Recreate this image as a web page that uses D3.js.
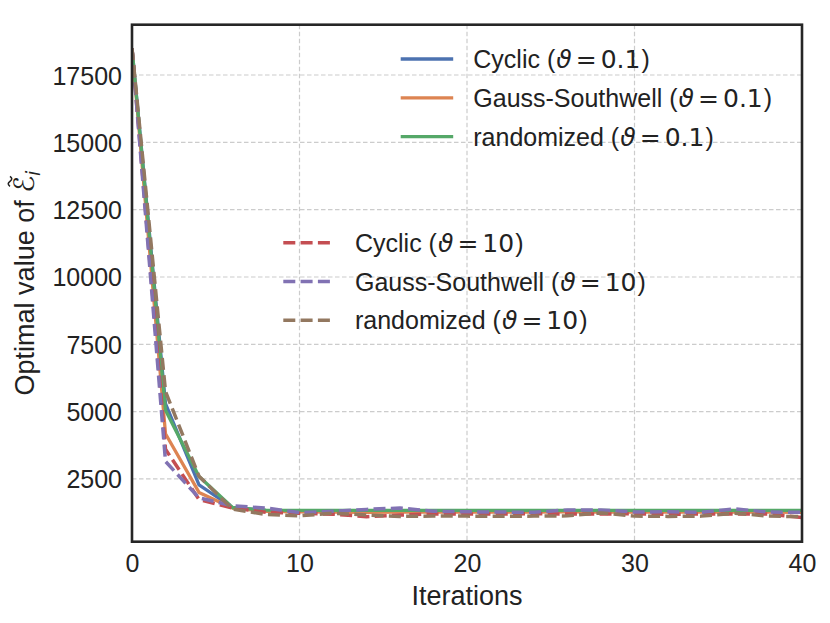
<!DOCTYPE html>
<html>
<head>
<meta charset="utf-8">
<script src="https://cdn.jsdelivr.net/npm/d3@7"></script>
<style>
  html, body { margin: 0; padding: 0; background: #fff; }
  svg { display: block; }
  text { font-family: 'Liberation Sans', Arial, sans-serif; fill: #222; }
</style>
</head>
<body>
<div id="chart"></div>
<script>
// iterations (x values)
var iterations = [0, 2, 4, 6, 8, 10, 12, 14, 16, 18, 20, 22, 24, 26, 28, 30, 32, 34, 36, 38, 40];

// objective values
var cyclic01 = [18500, 5300, 2280, 1440, 1320, 1310, 1300, 1300, 1300, 1295, 1300, 1300, 1305, 1300, 1300, 1300, 1300, 1295, 1300, 1300, 1290];
var gauss01  = [18500, 4180, 2000, 1420, 1300, 1280, 1270, 1260, 1270, 1270, 1265, 1270, 1270, 1275, 1270, 1270, 1265, 1270, 1270, 1270, 1260];
var random01 = [18500, 5050, 2590, 1440, 1345, 1335, 1330, 1330, 1330, 1330, 1330, 1330, 1330, 1330, 1330, 1330, 1330, 1330, 1330, 1330, 1330];
var cyclic10 = [18500, 3600, 1740, 1420, 1260, 1230, 1190, 1100, 1160, 1200, 1200, 1195, 1210, 1200, 1200, 1210, 1190, 1200, 1200, 1195, 1070];
var gauss10  = [18500, 3150, 1800, 1500, 1420, 1250, 1300, 1370, 1420, 1300, 1280, 1270, 1260, 1350, 1350, 1270, 1280, 1260, 1390, 1270, 1260];
var random10 = [18500, 5750, 2600, 1380, 1180, 1130, 1230, 1160, 1110, 1120, 1120, 1115, 1120, 1130, 1240, 1120, 1110, 1120, 1230, 1120, 1100];

var xTicks = [0, 10, 20, 30, 40];
var yTicks = [2500, 5000, 7500, 10000, 12500, 15000, 17500];

var solidSeries = [
  { name: 'Cyclic', theta: '0.1', values: cyclic01, color: '#4C72B0' },
  { name: 'Gauss-Southwell', theta: '0.1', values: gauss01, color: '#DD8452' },
  { name: 'randomized', theta: '0.1', values: random01, color: '#55A868' }
];
var dashedSeries = [
  { name: 'Cyclic', theta: '10', values: cyclic10, color: '#C44E52' },
  { name: 'Gauss-Southwell', theta: '10', values: gauss10, color: '#8172B3' },
  { name: 'randomized', theta: '10', values: random10, color: '#937860' }
];

var W = 830, H = 623;
var m = { left: 132, top: 24.7, right: 28, bottom: 81.3 };
var iw = W - m.left - m.right, ih = H - m.top - m.bottom;
var SANS = "'Liberation Sans', Arial, sans-serif";
var MATH = "'DejaVu Sans', sans-serif";

var svg = d3.select('#chart').append('svg')
  .attr('width', W).attr('height', H);

var x = d3.scaleLinear().domain([0, 40]).range([0, iw]);
var y = d3.scaleLinear().domain([170, 19368]).range([ih, 0]);

var g = svg.append('g').attr('transform', 'translate(' + m.left + ',' + m.top + ')');

svg.append('defs').append('clipPath').attr('id', 'clip')
  .append('rect').attr('width', iw).attr('height', ih);

// grid
g.append('g').selectAll('line').data(xTicks.slice(1, -1)).enter().append('line')
  .attr('x1', function(d) { return x(d); }).attr('x2', function(d) { return x(d); })
  .attr('y1', 0).attr('y2', ih)
  .attr('stroke', '#cccccc').attr('stroke-width', 1.2).attr('stroke-dasharray', '4.5,2.5');
g.append('g').selectAll('line').data(yTicks).enter().append('line')
  .attr('y1', function(d) { return y(d); }).attr('y2', function(d) { return y(d); })
  .attr('x1', 0).attr('x2', iw)
  .attr('stroke', '#cccccc').attr('stroke-width', 1.2).attr('stroke-dasharray', '4.5,2.5');

var line = d3.line()
  .x(function(d, i) { return x(iterations[i]); })
  .y(function(d) { return y(d); });

var lines = g.append('g').attr('clip-path', 'url(#clip)');
solidSeries.forEach(function(s) {
  lines.append('path').datum(s.values)
    .attr('d', line).attr('fill', 'none')
    .attr('stroke', s.color).attr('stroke-width', 3.3)
    .attr('stroke-linejoin', 'round');
});
dashedSeries.forEach(function(s) {
  lines.append('path').datum(s.values)
    .attr('d', line).attr('fill', 'none')
    .attr('stroke', s.color).attr('stroke-width', 3.5)
    .attr('stroke-dasharray', '12,5.3');
});

// axes (labels only, seaborn-white has no tick marks)
var xAxis = d3.axisBottom(x).tickValues(xTicks).tickSize(0).tickPadding(12).tickFormat(d3.format('d'));
var yAxis = d3.axisLeft(y).tickValues(yTicks).tickSize(0).tickPadding(10).tickFormat(d3.format('d'));
var gx = g.append('g').attr('transform', 'translate(0,' + ih + ')').call(xAxis);
var gy = g.append('g').call(yAxis);
[gx, gy].forEach(function(a) {
  a.select('.domain').remove();
  a.selectAll('text').attr('font-size', '25px')
    .attr('font-family', SANS).attr('fill', '#222');
});
gy.selectAll('text').attr('dy', '0.36em');
gx.selectAll('text').attr('dy', '0.74em');

// frame
g.append('rect').attr('width', iw).attr('height', ih)
  .attr('fill', 'none').attr('stroke', '#262626').attr('stroke-width', 2.6);

// axis labels
svg.append('text')
  .attr('x', m.left + iw / 2).attr('y', 605)
  .attr('text-anchor', 'middle').attr('font-size', '27px')
  .text('Iterations');

var yg = svg.append('g').attr('transform', 'translate(34,283) rotate(-90)');
var yl = yg.append('text').attr('font-size', '27px');
var t1 = yl.append('tspan').text('Optimal value of ');
var tE = yl.append('tspan').attr('font-family', MATH).attr('font-style', 'italic')
  .attr('font-size', '28px').text('\u2130');
yl.append('tspan').attr('font-family', MATH).attr('font-size', '19px')
  .attr('font-style', 'italic').attr('dy', 6).text('i');
var totalW = yl.node().getComputedTextLength();
yl.attr('x', -totalW / 2);
var eStart = -totalW / 2 + t1.node().getComputedTextLength();
var eW = tE.node().getComputedTextLength();
// tilde accent over the script E
var tx = eStart + eW / 2 - 2;
yg.append('path')
  .attr('d', 'M' + tx + ',-24 q2.5,-3.5 5,0 t5,0')
  .attr('fill', 'none').attr('stroke', '#222').attr('stroke-width', 1.6);

// legends
function legend(series, lx, ly, dashed) {
  var lg = svg.append('g').attr('transform', 'translate(' + lx + ',' + ly + ')');
  series.forEach(function(s, i) {
    var row = lg.append('g').attr('transform', 'translate(0,' + (i * 38.8) + ')');
    row.append('line').attr('x1', 0).attr('x2', dashed ? 48.5 : 52.5)
      .attr('stroke', s.color).attr('stroke-width', dashed ? 3.5 : 3.3)
      .attr('stroke-dasharray', dashed ? '12,5.3' : null);
    var t = row.append('text').attr('x', dashed ? 71.7 : 72.6).attr('y', 9).attr('font-size', '25px');
    t.append('tspan').text(s.name + ' (');
    t.append('tspan').attr('font-family', MATH).attr('font-style', 'italic').attr('dx', 1).text('\u03D1');
    t.append('tspan').attr('font-family', MATH).attr('dx', 4).text('=');
    t.append('tspan').attr('font-family', MATH).attr('dx', 4).text(s.theta);
    t.append('tspan').attr('dx', 1).text(')');
  });
}
legend(solidSeries, 400.7, 59, false);
legend(dashedSeries, 283.3, 242.7, true);
</script>
</body>
</html>
